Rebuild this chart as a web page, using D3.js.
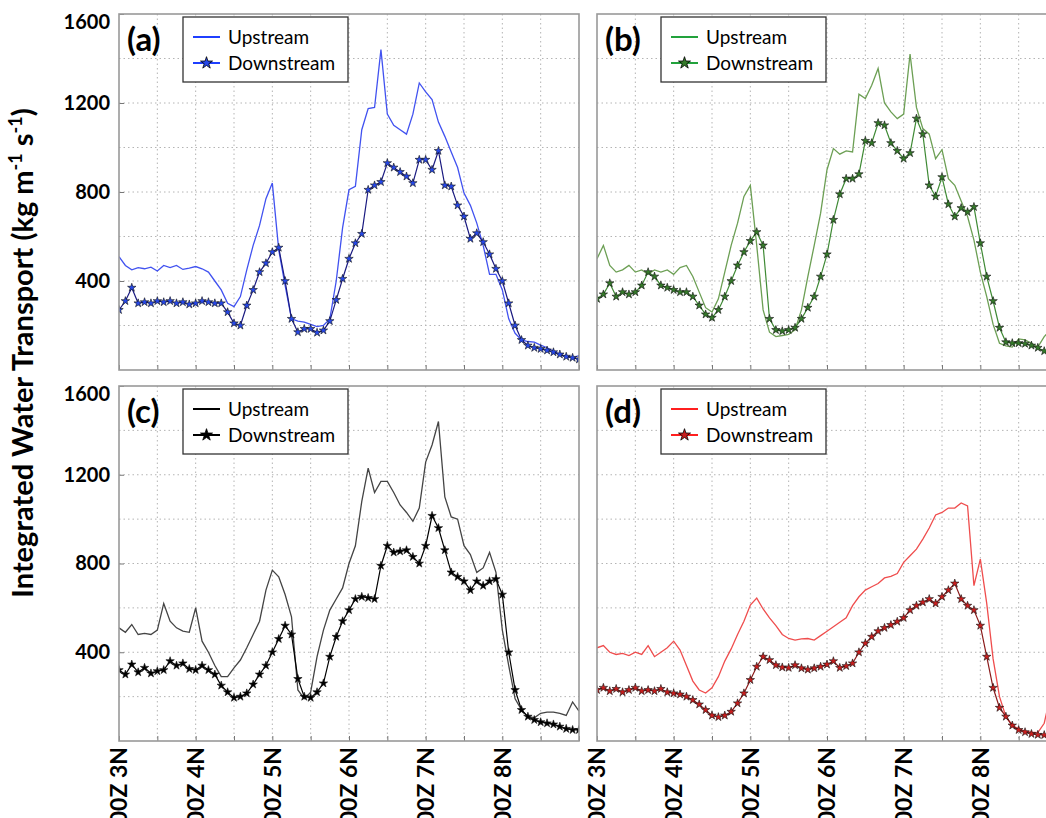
<!DOCTYPE html>
<html lang="en">
<head>
<meta charset="utf-8">
<title>Integrated Water Transport</title>
<script src="https://d3js.org/d3.v7.min.js"></script>
<style>
body { margin: 0; background: #fff; }
text { font-family: Lato, "Open Sans", sans-serif; }
</style>
</head>
<body>
<script>

// 2-hourly samples, 00Z 3 Nov to 00Z 9 Nov (hours since start)
var hours = d3.range(0, 145, 2);
var dayLabels = ["00Z 3N", "00Z 4N", "00Z 5N", "00Z 6N", "00Z 7N", "00Z 8N"];
var dayHours = [0, 24, 48, 72, 96, 120];
var yTicks = [400, 800, 1200, 1600];

// (a)
var upA = [510,470,450,460,455,462,445,470,460,470, 452,458,465,455,440,400,360,300,285,330,
	450,560,650,770,840,540,380,230,220,215, 205,195,200,230,400,640,810,825,1080,1175,
	1180,1440,1150,1100,1080,1060,1150,1290,1250,1215, 1114,1050,980,910,795,740,660,560,430,430,
	360,230,165,135,128,125,112,100,85,70, 60,55,65];
var downA = [270,310,370,300,305,300,310,305,310,300, 305,295,300,310,305,300,300,260,210,200,
	290,360,440,480,530,550,400,230,170,185, 185,168,178,220,315,410,500,570,612,810,
	830,845,930,910,890,870,840,945,945,900, 985,830,825,740,690,590,615,575,520,455,
	400,300,200,135,110,100,95,88,80,70, 60,55,48];
// (b)
var upB = [500,560,470,440,450,470,440,450,430,450, 440,450,430,460,470,420,350,280,260,320,
	440,560,660,780,830,560,270,170,150,155, 160,180,270,420,560,705,900,995,970,985,
	980,1240,1220,1280,1355,1200,1160,1130,1150,1420, 1180,1085,1060,950,990,860,830,760,690,584,
	440,330,205,120,108,103,140,135,120,103, 150,180,200];
var downB = [320,340,390,330,350,340,350,380,440,420, 380,370,360,350,350,330,290,250,235,270,
	330,400,470,530,580,620,560,230,180,175, 180,190,230,280,330,420,520,675,790,860,
	860,880,1030,1020,1110,1100,1020,985,950,975, 1130,1060,830,780,867,745,690,728,710,733,
	570,420,310,190,125,121,121,118,110,100, 85,75,65];
// (c)
var upC = [510,490,525,480,485,480,500,620,540,510, 495,490,600,450,400,340,290,290,330,365,
	420,480,540,680,770,740,660,560,230,190, 220,380,500,590,640,690,800,880,1080,1230,
	1120,1170,1170,1120,1064,1030,990,1050,1257,1334, 1440,1100,1010,1000,880,840,760,780,850,760,
	500,340,190,140,110,105,125,130,130,125, 115,176,135];
var downC = [320,300,345,310,330,305,315,320,360,340, 350,325,320,340,320,300,250,220,195,200,
	215,255,300,340,400,460,520,480,280,200, 195,220,260,380,470,540,590,640,650,645,
	640,790,880,850,855,860,830,800,880,1015, 960,860,760,740,720,680,720,700,720,730,
	660,400,230,140,110,95,85,80,75,65, 55,50,50];
// (d)
var upD = [420,430,400,390,395,385,400,390,430,380, 400,420,450,410,340,270,230,216,240,290,
	360,415,480,540,613,644,595,555,520,480, 462,455,460,462,455,475,495,515,535,555,
	610,650,680,695,710,735,742,755,805,835, 865,910,960,1019,1030,1050,1050,1073,1060,700,
	820,620,370,200,110,70,55,45,40,38, 80,210,280];
var downD = [230,240,225,235,220,230,240,225,230,225, 235,220,215,210,200,185,165,140,115,108,
	115,132,170,215,275,335,380,365,342,332, 330,342,328,322,328,335,345,360,330,338,
	350,400,440,470,495,510,523,538,555,590, 610,625,640,620,650,680,710,640,610,590,
	520,380,240,150,110,70,50,40,32,28, 27,27,27];

var panels = [
	{ tag: "(a)", col: 0, row: 0, up: upA, down: downA,
	  upColor: "#4152f0", downLine: "#1a1a80", starFill: "#2748e8", legendColor: "#1f3fff" },
	{ tag: "(b)", col: 1, row: 0, up: upB, down: downB,
	  upColor: "#6c9f54", downLine: "#3f8a35", starFill: "#357a2a", legendColor: "#22a23c" },
	{ tag: "(c)", col: 0, row: 1, up: upC, down: downC,
	  upColor: "#444444", downLine: "#000000", starFill: "#000000", legendColor: "#000000" },
	{ tag: "(d)", col: 1, row: 1, up: upD, down: downD,
	  upColor: "#ef4d4d", downLine: "#8a1a1a", starFill: "#c81e1e", legendColor: "#ff1f1f" }
];

var w = 1046, h = 818;
var cols = [[119, 579], [597, 1057]];
var rows = [[14, 370], [386, 741]];

var svg = d3.select("body").append("svg")
	.attr("width", w)
	.attr("height", h);

var star = d3.symbol().type(d3.symbolStar);

panels.forEach(function(p, k) {
	var x = d3.scaleLinear().domain([0, 144]).range(cols[p.col]);
	var y = d3.scaleLinear().domain([0, 1600]).range([rows[p.row][1], rows[p.row][0]]);
	var x0 = cols[p.col][0], x1 = cols[p.col][1];
	var y0 = rows[p.row][0], y1 = rows[p.row][1];

	svg.append("clipPath").attr("id", "clip" + k)
		.append("rect").attr("x", x0).attr("y", y0).attr("width", x1 - x0).attr("height", y1 - y0);

	var g = svg.append("g");

	// dotted grid
	g.selectAll("line.vg").data(d3.range(12, 144, 12)).enter().append("line")
		.attr("x1", d => x(d)).attr("x2", d => x(d))
		.attr("y1", y0).attr("y2", y1)
		.attr("stroke", "#b4b4b4").attr("stroke-width", 1).attr("stroke-dasharray", "1.5,3");
	g.selectAll("line.hg").data(d3.range(200, 1600, 200)).enter().append("line")
		.attr("x1", x0).attr("x2", x1)
		.attr("y1", d => y(d)).attr("y2", d => y(d))
		.attr("stroke", "#b4b4b4").attr("stroke-width", 1).attr("stroke-dasharray", "1.5,3");

	// tick marks
	g.append("g").attr("transform", "translate(0," + y1 + ")")
		.call(d3.axisBottom(x).tickValues(d3.range(0, 145, 12)).tickSize(-5).tickFormat(""))
		.call(a => a.select(".domain").remove())
		.selectAll("line").attr("stroke", "#777");

	if (p.col === 0) {
		g.append("g").attr("transform", "translate(" + x0 + ",0)")
			.call(d3.axisLeft(y).tickValues(yTicks).tickSize(-5).tickPadding(9).tickFormat(d3.format("d")))
			.call(a => a.select(".domain").remove())
			.call(a => a.selectAll("line").attr("stroke", "#777"))
			.selectAll("text")
			.attr("font-size", 20).attr("font-weight", "bold").attr("fill", "#000")
			.attr("dy", d => d === 1600 ? "0.7em" : "0.32em")
			.style("font-family", "Lato, sans-serif");
	}

	var line = d3.line().x((d, i) => x(hours[i])).y(d => y(d));
	var plot = g.append("g").attr("clip-path", "url(#clip" + k + ")");

	plot.append("path").datum(p.up)
		.attr("d", line).attr("fill", "none")
		.attr("stroke", p.upColor).attr("stroke-width", 1.3);
	plot.append("path").datum(p.down)
		.attr("d", line).attr("fill", "none")
		.attr("stroke", p.downLine).attr("stroke-width", 1.2);
	plot.selectAll("path.star").data(p.down).enter().append("path")
		.attr("class", "star")
		.attr("d", star.size(22))
		.attr("transform", (d, i) => "translate(" + x(hours[i]) + "," + y(d) + ")")
		.attr("fill", p.starFill)
		.attr("stroke", "#111").attr("stroke-width", 0.6);

	// frame
	g.append("rect")
		.attr("x", x0).attr("y", y0).attr("width", x1 - x0).attr("height", y1 - y0)
		.attr("fill", "none").attr("stroke", "#999").attr("stroke-width", 1.6);

	// panel tag
	g.append("text").attr("x", x0 + 8).attr("y", y0 + 37)
		.attr("font-size", 33).attr("font-weight", "bold").text(p.tag);

	// legend
	var lg = g.append("g").attr("transform", "translate(" + (x0 + 64) + "," + (y0 + 3) + ")");
	lg.append("rect").attr("width", 165).attr("height", 65)
		.attr("fill", "#fff").attr("stroke", "#333").attr("stroke-width", 1.3);
	lg.append("line").attr("x1", 10).attr("x2", 37).attr("y1", 20).attr("y2", 20)
		.attr("stroke", p.legendColor).attr("stroke-width", 2);
	lg.append("line").attr("x1", 10).attr("x2", 37).attr("y1", 46).attr("y2", 46)
		.attr("stroke", p.legendColor).attr("stroke-width", 2);
	lg.append("path").attr("d", star.size(45))
		.attr("transform", "translate(23.5,46)")
		.attr("fill", p.legendColor === "#000000" ? "#000" : p.starFill)
		.attr("stroke", "#000").attr("stroke-width", 0.8);
	lg.append("text").attr("x", 45).attr("y", 27).attr("font-size", 19).text("Upstream");
	lg.append("text").attr("x", 45).attr("y", 53).attr("font-size", 19).text("Downstream");

	// date labels on bottom row
	if (p.row === 1) {
		g.selectAll("text.day").data(dayHours).enter().append("text")
			.attr("class", "day")
			.attr("transform", d => "translate(" + x(d) + "," + (y1 + 6) + ") rotate(-90)")
			.attr("text-anchor", "end")
			.attr("dy", "0.36em")
			.attr("font-size", 23).attr("font-weight", "bold")
			.text((d, i) => dayLabels[i]);
	}
});

// y axis title
var title = svg.append("text")
	.attr("transform", "translate(33,353) rotate(-90)")
	.attr("text-anchor", "middle")
	.attr("font-size", 29).attr("font-weight", "bold");
title.append("tspan").text("Integrated Water Transport (kg m");
title.append("tspan").attr("dy", -11).attr("font-size", 18).text("-1");
title.append("tspan").attr("dy", 11).text(" s");
title.append("tspan").attr("dy", -11).attr("font-size", 18).text("-1");
title.append("tspan").attr("dy", 11).text(")");

</script>
</body>
</html>
